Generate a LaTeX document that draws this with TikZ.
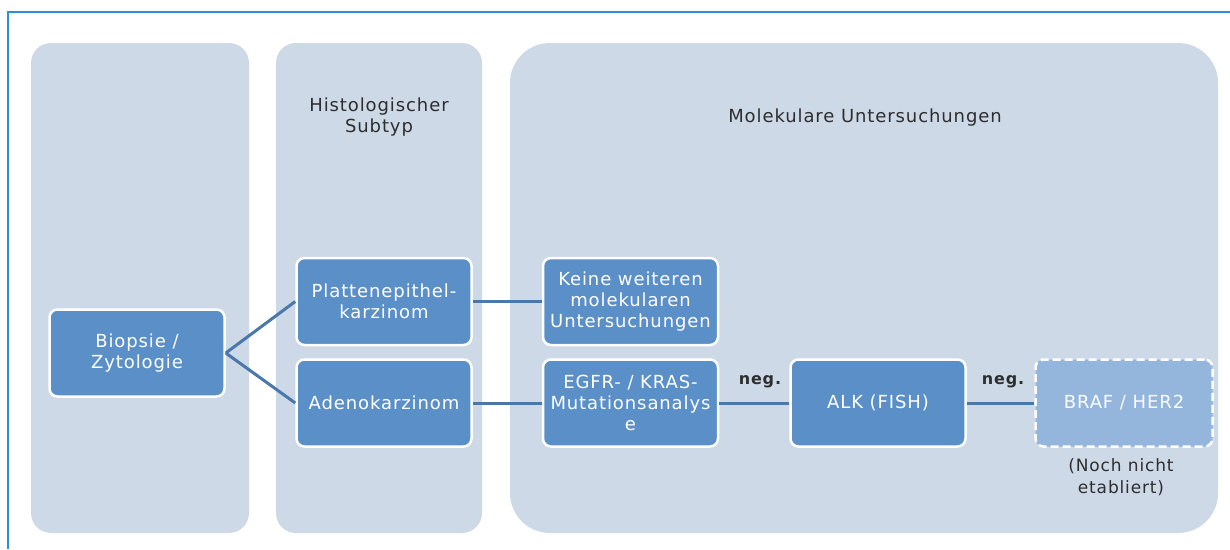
\documentclass[tikz,border=0pt]{standalone}
\usepackage{fontspec}
\setmainfont{DejaVu Sans}[LetterSpace=5]
\definecolor{panelc}{HTML}{CDD9E7}
\definecolor{boxc}{HTML}{5B8FC7}
\definecolor{boxlight}{HTML}{94B6DC}
\definecolor{linec}{HTML}{4A78AA}
\definecolor{framec}{HTML}{2F8FD8}
\definecolor{textdark}{HTML}{2E2E2E}
\tikzset{
  panel/.style={fill=panelc, draw=none, rounded corners=20pt, inner sep=0pt},
  bigpanel/.style={fill=panelc, draw=none, rounded corners=40pt, inner sep=0pt},
  stepbox/.style={fill=boxc, draw=white, line width=2.5pt, rounded corners=8pt,
    minimum width=175pt, minimum height=87pt, inner sep=2pt, align=center,
    text=white, font=\fontsize{18}{21}\selectfont},
  lightbox/.style={stepbox, fill=boxlight, dashed, dash pattern=on 8pt off 4pt, text=white!95!boxlight},
  conn/.style={draw=linec, line width=3pt},
  title/.style={text=textdark, align=center, font=\fontsize{18}{21}\selectfont},
  lbl/.style={text=textdark, align=center, font=\fontsize{17}{22}\selectfont},
}
\begin{document}
\begin{tikzpicture}[x=1pt,y=-1pt]
\useasboundingbox (0,0) rectangle (1230,549);
\fill[white] (0,0) rectangle (1230,549);
\draw[framec, line width=2.2pt] (8,549) -- (8,12) -- (1230,12);
% panels
\node[panel, minimum width=218pt, minimum height=490pt] (p1) at (140,288) {};
\node[panel, minimum width=206pt, minimum height=490pt] (p2) at (379,288) {};
\node[bigpanel, minimum width=708pt, minimum height=490pt] (p3) at (864,288) {};
% titles
\node[title] (t2) at (379,117) {Histologischer\\Subtyp};
\node[title] (t3) at (865,118) {Molekulare Untersuchungen};
% boxes
\node[stepbox] (bio) at (137,353) {Biopsie /\\Zytologie};
\node[stepbox] (platt) at (384,301.5) {Plattenepithel-\\karzinom};
\node[stepbox] (adeno) at (384,403) {Adenokarzinom};
\node[stepbox] (keine) at (630.5,301.5) {Keine weiteren\\molekularen\\Untersuchungen};
\node[stepbox] (egfr) at (630.5,403) {EGFR- / KRAS-\\Mutationsanalys\\e};
\node[stepbox] (alk) at (878,403) {ALK (FISH)};
\node[lightbox, minimum width=177pt] (braf) at (1124,403) {BRAF / HER2};
% connectors
\draw[conn] (bio.east) -- (platt.west);
\draw[conn] (bio.east) -- (adeno.west);
\draw[conn] (platt.east) -- (keine.west);
\draw[conn] (adeno.east) -- (egfr.west);
\draw[conn] (egfr.east) -- (alk.west);
\draw[conn] (alk.east) -- (braf.west);
% labels
\node[lbl, font=\bfseries\fontsize{16}{21}\selectfont] (n1) at (760,382) {neg.};
\node[lbl, font=\bfseries\fontsize{16}{21}\selectfont] (n2) at (1003,382) {neg.};
\node[lbl] (note) at (1121,477) {(Noch nicht\\etabliert)};
\end{tikzpicture}
\end{document}
